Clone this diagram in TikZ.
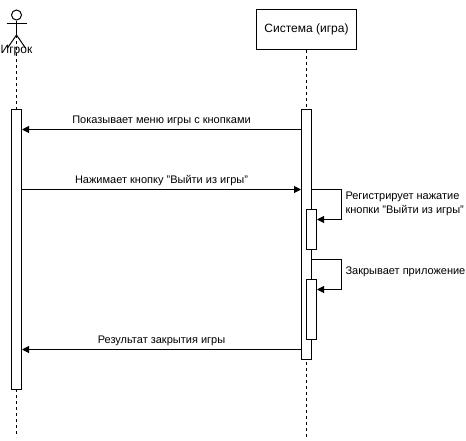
\documentclass[tikz,border=0pt]{standalone}
\usepackage{fontspec}
\setmainfont{Liberation Sans}
\usetikzlibrary{arrows.meta,positioning}
\tikzset{
    actbar/.style={draw, fill=white, minimum width=10pt, inner sep=0pt},
    lifeline/.style={dash pattern=on 3pt off 3pt},
    msg/.style={-{Triangle[length=7pt,width=7pt]}},
    msglabel/.style={font=\fontsize{11pt}{13.5pt}\selectfont, inner sep=0pt, align=center},
    headlabel/.style={font=\fontsize{12pt}{14pt}\selectfont, inner sep=0pt}
}

\begin{document}
\begin{tikzpicture}[x=1pt, y=-1pt, line width=1pt]
        \useasboundingbox (0,0) rectangle (466,440);

        % player
        \draw (16.5,15) node[draw, shape=circle, minimum size=10pt, inner sep=0pt] (head) {};
        \coordinate (hip) at (16.5,35);
        \coordinate (lfoot) at (7.5,48);
        \coordinate (rfoot) at (25.5,48);
        \coordinate (larm) at (6.5,23);
        \coordinate (rarm) at (26.5,23);
        \coordinate (playerend) at (16.5,437);
        \coordinate (systemend) at (306.5,437);
        \draw (head.south) -- (hip);
        \draw (larm) -- (rarm);
        \draw (lfoot) -- (hip) -- (rfoot);

        \node[draw, minimum width=100pt, minimum height=40pt, headlabel] (system) at (306.5,29.5) {Система (игра)};

        \draw[lifeline] (hip) -- (playerend);
        \draw[lifeline] (system.south) -- (systemend);
        \node[headlabel] (player) at (16.5,51) {Игрок};

        \node[actbar, minimum height=280pt] (playerbar) at (16.5,249.5) {};
        \node[actbar, minimum height=250pt] (systembar) at (306.5,234.5) {};
        \node[actbar, minimum height=40pt] (regbar) at (311.5,229.5) {};
        \node[actbar, minimum height=60pt] (closebar) at (311.5,309.5) {};

        % messages
        \coordinate (m1) at (0,129.5);
        \coordinate (m2) at (0,189.5);
        \coordinate (m3) at (0,349.5);
        \draw[msg] (systembar.west |- m1) -- (playerbar.east |- m1);
        \draw[msg] (playerbar.east |- m2) -- (systembar.west |- m2);
        \draw[msg] (systembar.west |- m3) -- (playerbar.east |- m3);

        \node[msglabel] (menu) at (161.5,120.5) {Показывает меню игры с кнопками};
        \node[msglabel] (exitbtn) at (161.5,180.5) {Нажимает кнопку "Выйти из игры"};
        \node[msglabel] (result) at (161.5,340.5) {Результат закрытия игры};

        % self calls
        \coordinate (s1) at (341.5,189.5);
        \coordinate (s2) at (341.5,219.5);
        \coordinate (s3) at (341.5,259.5);
        \coordinate (s4) at (341.5,289.5);
        \draw[msg] (systembar.east |- s1) -- (s1) -- (s2) -- (regbar.east |- s2);
        \draw[msg] (systembar.east |- s3) -- (s3) -- (s4) -- (closebar.east |- s4);

        \node[msglabel, align=left, anchor=west] (reglabel) at (345,204) {Регистрирует нажатие\\кнопки "Выйти из игры"};
        \node[msglabel, anchor=west] (closelabel) at (345,272) {Закрывает приложение};
\end{tikzpicture}
\end{document}
